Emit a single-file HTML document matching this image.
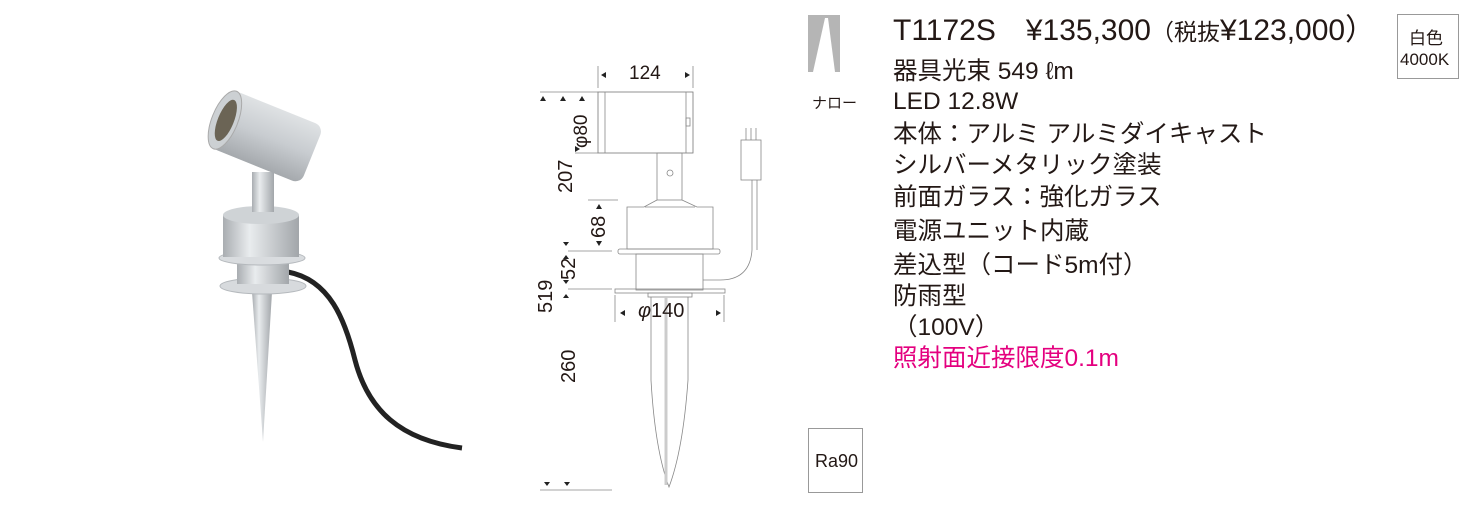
<!DOCTYPE html>
<html><head><meta charset="utf-8"><style>
body{margin:0;background:#fff;width:1469px;height:526px;overflow:hidden;position:relative;font-family:"Liberation Sans","Noto Sans CJK JP",sans-serif;color:#231815}
.t{position:absolute;white-space:nowrap}
.l{position:absolute;left:893px;font-size:24.5px;line-height:28px;white-space:nowrap}
</style></head><body>
<svg width="1469" height="526" style="position:absolute;left:0;top:0">
<defs>
<linearGradient id="m" x1="0" x2="1"><stop offset="0" stop-color="#a9adb1"/><stop offset=".35" stop-color="#e9ecee"/><stop offset="1" stop-color="#a2a6aa"/></linearGradient>
<linearGradient id="h" x1="0" y1="0" x2="0" y2="1"><stop offset="0" stop-color="#dfe2e4"/><stop offset=".5" stop-color="#c8ccd0"/><stop offset="1" stop-color="#a5a9ad"/></linearGradient>
</defs>
<!-- photo -->
<path d="M288 272 C330 280 345 320 355 360 C368 410 400 440 462 448" stroke="#222" stroke-width="5" fill="none"/>
<path d="M252 292 L272 292 L263 442 Z" fill="url(#m)"/>
<ellipse cx="263" cy="286" rx="43" ry="8" fill="#d7dadd" stroke="#b5b9bd"/>
<rect x="237" y="262" width="52" height="22" fill="url(#m)"/>
<ellipse cx="262" cy="258" rx="43" ry="7" fill="#d9dcdf" stroke="#b5b9bd"/>
<rect x="223" y="215" width="76" height="42" fill="url(#m)"/>
<ellipse cx="261" cy="215" rx="38" ry="9" fill="#cfd3d6"/>
<rect x="252" y="172" width="22" height="40" fill="url(#m)"/>
<g transform="rotate(22 262 135)">
<rect x="218" y="104" width="98" height="62" rx="9" fill="url(#h)"/>
<ellipse cx="222" cy="135" rx="13" ry="31" fill="#ccd0d3" stroke="#aaa"/>
<ellipse cx="223" cy="135" rx="8" ry="22" fill="#6b6455"/>
</g>
<!-- drawing -->
<g stroke="#888" stroke-width="0.8" fill="none">
<line x1="598" y1="66" x2="598" y2="88"/><line x1="693" y1="66" x2="693" y2="88"/>
<line x1="540" y1="92" x2="598" y2="92"/>
<line x1="575" y1="153" x2="598" y2="153"/>
<rect x="598" y="92" width="95" height="61" stroke="#777"/>
<line x1="605" y1="92" x2="605" y2="153"/><line x1="686" y1="92" x2="686" y2="153"/>
<rect x="686" y="118" width="4" height="8"/>
<rect x="657" y="153" width="25" height="47"/>
<circle cx="670" cy="173" r="3"/>
<path d="M657 200 L644 207 L627 207 L627 249 L713 249 L713 207 L697 207 L682 200"/>
<path d="M645 207 L695 207"/>
<rect x="618" y="249" width="102" height="5" rx="2"/>
<rect x="636" y="254" width="67" height="36"/>
<rect x="615" y="289" width="110" height="4"/>
<rect x="648" y="293" width="44" height="4"/>
<path d="M651 297 L651 380 Q655 450 669 487 Q683 450 688 380 L688 297"/>
<line x1="666" y1="297" x2="666" y2="485" stroke="#ccc" stroke-width="3"/>
<line x1="588" y1="200" x2="618" y2="200"/>
<line x1="568" y1="251" x2="612" y2="251"/>
<line x1="568" y1="289" x2="612" y2="289"/>
<line x1="615" y1="295" x2="615" y2="322"/><line x1="724" y1="295" x2="724" y2="322"/>
<line x1="540" y1="490" x2="612" y2="490"/>
<path d="M703 280 L720 280 Q750 280 752 250 L752 180"/>
<path d="M757 180 L757 250"/>
<rect x="741" y="140" width="20" height="40"/>
<line x1="746" y1="128" x2="746" y2="140"/><line x1="751" y1="128" x2="751" y2="140"/><line x1="756" y1="128" x2="756" y2="140"/>
</g>
<g fill="#222">
<path d="M601 75 l5 -3 v6z"/><path d="M690 75 l-5 -3 v6z"/>
<path d="M543 96 l-3 5 h6z"/><path d="M563 96 l-3 5 h6z"/><path d="M582 96 l-3 5 h6z"/>
<path d="M580 149 l-5 -3 v6z"/>
<path d="M599 204 l-3 5 h6z"/><path d="M599 246 l-3 -5 h6z"/>
<path d="M566 246 l-3 -4 h6z"/><path d="M566 255 l-3 4 h6z"/>
<path d="M566 284 l-3 -4 h6z"/><path d="M566 294 l-3 4 h6z"/>
<path d="M620 313 l5 -3 v6z"/><path d="M721 313 l-5 -3 v6z"/>
<path d="M547 486 l-3 -4 h6z"/><path d="M567 486 l-3 -4 h6z"/>
</g>
<!-- icon -->
<rect x="808" y="15" width="32" height="57" fill="#b5b5b5"/>
<path d="M825 18 L828 18 L835 72 L813 72 Z" fill="#fff"/>
<rect x="1397.5" y="14.5" width="61" height="64" fill="none" stroke="#999"/>
<rect x="808.5" y="428.5" width="54" height="64" fill="none" stroke="#999"/>
</svg>
<div class="t" style="left:629px;top:63px;font-size:19px">124</div>
<div class="t" style="left:571px;top:148px;font-size:19px;transform:rotate(-90deg);transform-origin:left top">φ80</div>
<div class="t" style="left:555px;top:193px;font-size:20px;transform:rotate(-90deg);transform-origin:left top">207</div>
<div class="t" style="left:588px;top:238px;font-size:20px;transform:rotate(-90deg);transform-origin:left top">68</div>
<div class="t" style="left:558px;top:280px;font-size:20px;transform:rotate(-90deg);transform-origin:left top">52</div>
<div class="t" style="left:535px;top:313px;font-size:20px;transform:rotate(-90deg);transform-origin:left top">519</div>
<div class="t" style="left:558px;top:383px;font-size:20px;transform:rotate(-90deg);transform-origin:left top">260</div>
<div class="t" style="left:638px;top:300px;font-size:20px"><i>φ</i>140</div>
<div class="t" style="left:812px;top:92px;font-size:15px">ナロー</div>
<div class="l" style="top:13px;font-size:30px;line-height:36px">T1172S　¥135,300<span style="font-size:23px">（税抜</span>¥123,000）</div>
<div class="l" style="top:58px">器具光束 549 ℓm</div>
<div class="l" style="top:88px">LED 12.8W</div>
<div class="l" style="top:121px">本体：アルミ アルミダイキャスト</div>
<div class="l" style="top:152px">シルバーメタリック塗装</div>
<div class="l" style="top:184px">前面ガラス：強化ガラス</div>
<div class="l" style="top:218px">電源ユニット内蔵</div>
<div class="l" style="top:252px">差込型（コード5m付）</div>
<div class="l" style="top:283px">防雨型</div>
<div class="l" style="top:314px">（100V）</div>
<div class="l" style="top:345px;color:#e4007f">照射面近接限度0.1m</div>
<div class="t" style="left:1409px;top:24px;font-size:17px">白色</div>
<div class="t" style="left:1400px;top:50px;font-size:17px">4000K</div>
<div class="t" style="left:815px;top:451px;font-size:18px">Ra90</div>
</body></html>
